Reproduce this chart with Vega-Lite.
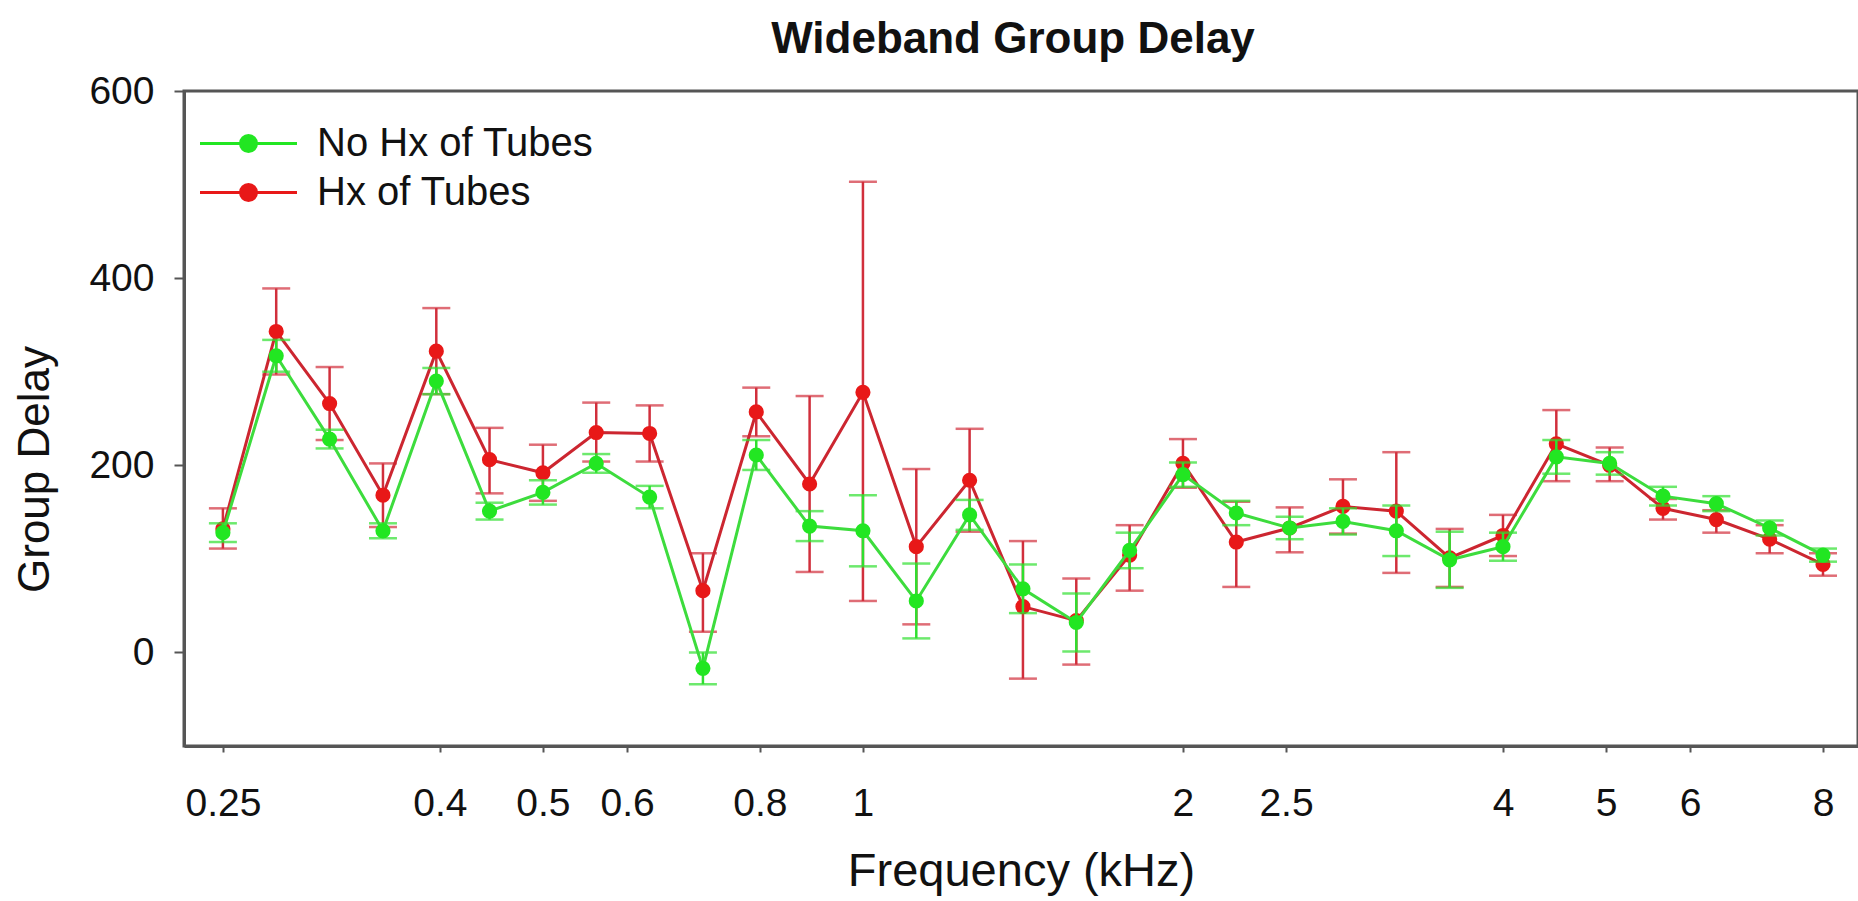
{
  "$schema": "https://vega.github.io/schema/vega-lite/v6.json",
  "width": 1674,
  "height": 655,
  "autosize": "none",
  "padding": {"left": 184, "top": 91, "right": 0, "bottom": 155},
  "background": "white",
  "title": {"text": "Wideband Group Delay", "fontSize": 44, "fontWeight": "bold", "font": "Liberation Sans", "color": "#111", "anchor": "middle", "baseline": "alphabetic", "offset": 18, "dy": 43, "dx": -8},
  "data": {"values": [
    {"k":0,"freq":0.25,"group":"No Hx of Tubes","mean":128,"lo":118,"hi":138},
    {"k":1,"freq":0.2806,"group":"No Hx of Tubes","mean":317,"lo":300,"hi":334},
    {"k":2,"freq":0.315,"group":"No Hx of Tubes","mean":228,"lo":218,"hi":238},
    {"k":3,"freq":0.3536,"group":"No Hx of Tubes","mean":130,"lo":122,"hi":138},
    {"k":4,"freq":0.3969,"group":"No Hx of Tubes","mean":290,"lo":276,"hi":304},
    {"k":5,"freq":0.4454,"group":"No Hx of Tubes","mean":151,"lo":142,"hi":160},
    {"k":6,"freq":0.5,"group":"No Hx of Tubes","mean":171,"lo":158,"hi":184},
    {"k":7,"freq":0.5612,"group":"No Hx of Tubes","mean":202,"lo":192,"hi":212},
    {"k":8,"freq":0.63,"group":"No Hx of Tubes","mean":166,"lo":154,"hi":178},
    {"k":9,"freq":0.7071,"group":"No Hx of Tubes","mean":-17,"lo":-34,"hi":0},
    {"k":10,"freq":0.7937,"group":"No Hx of Tubes","mean":211,"lo":195,"hi":227},
    {"k":11,"freq":0.8909,"group":"No Hx of Tubes","mean":135,"lo":119,"hi":151},
    {"k":12,"freq":1.0,"group":"No Hx of Tubes","mean":130,"lo":92,"hi":168},
    {"k":13,"freq":1.1225,"group":"No Hx of Tubes","mean":55,"lo":15,"hi":95},
    {"k":14,"freq":1.2599,"group":"No Hx of Tubes","mean":147,"lo":131,"hi":163},
    {"k":15,"freq":1.4142,"group":"No Hx of Tubes","mean":68,"lo":42,"hi":94},
    {"k":16,"freq":1.5874,"group":"No Hx of Tubes","mean":32,"lo":1,"hi":63},
    {"k":17,"freq":1.7818,"group":"No Hx of Tubes","mean":109,"lo":90,"hi":128},
    {"k":18,"freq":2.0,"group":"No Hx of Tubes","mean":190,"lo":177,"hi":203},
    {"k":19,"freq":2.2449,"group":"No Hx of Tubes","mean":149,"lo":136,"hi":162},
    {"k":20,"freq":2.5198,"group":"No Hx of Tubes","mean":133,"lo":121,"hi":145},
    {"k":21,"freq":2.8284,"group":"No Hx of Tubes","mean":140,"lo":126,"hi":154},
    {"k":22,"freq":3.1748,"group":"No Hx of Tubes","mean":130,"lo":103,"hi":157},
    {"k":23,"freq":3.5636,"group":"No Hx of Tubes","mean":99,"lo":69,"hi":129},
    {"k":24,"freq":4.0,"group":"No Hx of Tubes","mean":113,"lo":98,"hi":128},
    {"k":25,"freq":4.4898,"group":"No Hx of Tubes","mean":209,"lo":191,"hi":227},
    {"k":26,"freq":5.0397,"group":"No Hx of Tubes","mean":202,"lo":190,"hi":214},
    {"k":27,"freq":5.6569,"group":"No Hx of Tubes","mean":167,"lo":157,"hi":177},
    {"k":28,"freq":6.3496,"group":"No Hx of Tubes","mean":159,"lo":151,"hi":167},
    {"k":29,"freq":7.1272,"group":"No Hx of Tubes","mean":133,"lo":125,"hi":141},
    {"k":30,"freq":8.0,"group":"No Hx of Tubes","mean":104,"lo":97,"hi":111},
    {"k":0,"freq":0.25,"group":"Hx of Tubes","mean":132,"lo":111,"hi":154},
    {"k":1,"freq":0.2806,"group":"Hx of Tubes","mean":343,"lo":297,"hi":389},
    {"k":2,"freq":0.315,"group":"Hx of Tubes","mean":266,"lo":227,"hi":305},
    {"k":3,"freq":0.3536,"group":"Hx of Tubes","mean":168,"lo":134,"hi":202},
    {"k":4,"freq":0.3969,"group":"Hx of Tubes","mean":322,"lo":276,"hi":368},
    {"k":5,"freq":0.4454,"group":"Hx of Tubes","mean":206,"lo":170,"hi":240},
    {"k":6,"freq":0.5,"group":"Hx of Tubes","mean":192,"lo":162,"hi":222},
    {"k":7,"freq":0.5612,"group":"Hx of Tubes","mean":235,"lo":204,"hi":267},
    {"k":8,"freq":0.63,"group":"Hx of Tubes","mean":234,"lo":204,"hi":264},
    {"k":9,"freq":0.7071,"group":"Hx of Tubes","mean":66,"lo":22,"hi":106},
    {"k":10,"freq":0.7937,"group":"Hx of Tubes","mean":257,"lo":231,"hi":283},
    {"k":11,"freq":0.8909,"group":"Hx of Tubes","mean":180,"lo":86,"hi":274},
    {"k":12,"freq":1.0,"group":"Hx of Tubes","mean":278,"lo":55,"hi":503},
    {"k":13,"freq":1.1225,"group":"Hx of Tubes","mean":113,"lo":30,"hi":196},
    {"k":14,"freq":1.2599,"group":"Hx of Tubes","mean":184,"lo":129,"hi":239},
    {"k":15,"freq":1.4142,"group":"Hx of Tubes","mean":49,"lo":-28,"hi":119},
    {"k":16,"freq":1.5874,"group":"Hx of Tubes","mean":34,"lo":-13,"hi":79},
    {"k":17,"freq":1.7818,"group":"Hx of Tubes","mean":104,"lo":66,"hi":136},
    {"k":18,"freq":2.0,"group":"Hx of Tubes","mean":202,"lo":176,"hi":228},
    {"k":19,"freq":2.2449,"group":"Hx of Tubes","mean":118,"lo":70,"hi":161},
    {"k":20,"freq":2.5198,"group":"Hx of Tubes","mean":133,"lo":107,"hi":155},
    {"k":21,"freq":2.8284,"group":"Hx of Tubes","mean":156,"lo":127,"hi":185},
    {"k":22,"freq":3.1748,"group":"Hx of Tubes","mean":151,"lo":85,"hi":214},
    {"k":23,"freq":3.5636,"group":"Hx of Tubes","mean":101,"lo":70,"hi":132},
    {"k":24,"freq":4.0,"group":"Hx of Tubes","mean":125,"lo":103,"hi":147},
    {"k":25,"freq":4.4898,"group":"Hx of Tubes","mean":223,"lo":183,"hi":259},
    {"k":26,"freq":5.0397,"group":"Hx of Tubes","mean":200,"lo":183,"hi":219},
    {"k":27,"freq":5.6569,"group":"Hx of Tubes","mean":154,"lo":142,"hi":164},
    {"k":28,"freq":6.3496,"group":"Hx of Tubes","mean":142,"lo":128,"hi":152},
    {"k":29,"freq":7.1272,"group":"Hx of Tubes","mean":121,"lo":106,"hi":136},
    {"k":30,"freq":8.0,"group":"Hx of Tubes","mean":94,"lo":82,"hi":106}
  ]},
  "encoding": {
    "x": {
      "field": "freq", "type": "quantitative",
      "scale": {"type": "log", "domain": [0.2298, 8.63], "nice": false},
      "axis": {
        "title": "Frequency (kHz)",
        "values": [0.25, 0.4, 0.5, 0.6, 0.8, 1, 2, 2.5, 4, 5, 6, 8],
        "labelExpr": "'' + datum.value",
        "tickSize": 6, "labelPadding": 32, "labelFontSize": 39,
        "titleFontSize": 47, "titleY": 139, "titleBaseline": "alphabetic",
        "grid": false, "labelFlush": false, "labelOverlap": false
      }
    }
  },
  "layer": [
    {
      "transform": [{"filter": "datum.group === 'Hx of Tubes'"}],
      "mark": {"type": "errorbar", "ticks": {"size": 28, "thickness": 2.5}, "rule": {"strokeWidth": 2.5}, "color": "#d12f3c"},
      "encoding": {
        "y": {"field": "lo", "type": "quantitative", "scale": {"domain": [-100, 600], "nice": false, "zero": false}, "axis": {"title": "Group Delay", "values": [0, 200, 400, 600]}},
        "y2": {"field": "hi"}
      }
    },
    {
      "transform": [{"filter": "datum.group === 'Hx of Tubes'"}],
      "mark": {"type": "line", "color": "#cc2630", "strokeWidth": 3},
      "encoding": {
        "y": {"field": "mean", "type": "quantitative", "scale": {"domain": [-100, 600], "nice": false, "zero": false}, "axis": {"title": "Group Delay", "values": [0, 200, 400, 600]}},
        "order": {"field": "k"}
      }
    },
    {
      "transform": [{"filter": "datum.group === 'Hx of Tubes'"}],
      "mark": {"type": "point", "filled": true, "size": 230, "opacity": 1},
      "encoding": {
        "y": {"field": "mean", "type": "quantitative", "scale": {"domain": [-100, 600], "nice": false, "zero": false}, "axis": {"title": "Group Delay", "values": [0, 200, 400, 600]}},
        "color": {"field": "group", "type": "nominal", "scale": {"domain": ["No Hx of Tubes", "Hx of Tubes"], "range": ["#22e622", "#e81818"]}, "title": null,
          "legend": {"encode": {"symbols": {"update": {"stroke": {"field": "value", "scale": "color"}, "strokeWidth": {"value": 3}}}}}}
      }
    },
    {
      "transform": [{"filter": "datum.group === 'No Hx of Tubes'"}],
      "mark": {"type": "errorbar", "ticks": {"size": 28, "thickness": 2.5}, "rule": {"strokeWidth": 2.5}, "color": "#2fe02f"},
      "encoding": {
        "y": {"field": "lo", "type": "quantitative", "scale": {"domain": [-100, 600], "nice": false, "zero": false}, "axis": {"title": "Group Delay", "values": [0, 200, 400, 600]}},
        "y2": {"field": "hi"}
      }
    },
    {
      "transform": [{"filter": "datum.group === 'No Hx of Tubes'"}],
      "mark": {"type": "line", "color": "#3ddc3d", "strokeWidth": 3},
      "encoding": {
        "y": {"field": "mean", "type": "quantitative", "scale": {"domain": [-100, 600], "nice": false, "zero": false}, "axis": {"title": "Group Delay", "values": [0, 200, 400, 600]}},
        "order": {"field": "k"}
      }
    },
    {
      "transform": [{"filter": "datum.group === 'No Hx of Tubes'"}],
      "mark": {"type": "point", "filled": true, "size": 230, "opacity": 1},
      "encoding": {
        "y": {"field": "mean", "type": "quantitative", "scale": {"domain": [-100, 600], "nice": false, "zero": false}, "axis": {"title": "Group Delay", "values": [0, 200, 400, 600]}},
        "color": {"field": "group", "type": "nominal", "scale": {"domain": ["No Hx of Tubes", "Hx of Tubes"], "range": ["#22e622", "#e81818"]}, "title": null,
          "legend": {"encode": {"symbols": {"update": {"stroke": {"field": "value", "scale": "color"}, "strokeWidth": {"value": 3}}}}}}
      }
    }
  ],
  "config": {
    "font": "Liberation Sans",
    "view": {"stroke": "#555", "strokeWidth": 3},
    "axis": {
      "domainColor": "#555", "domainWidth": 3, "tickColor": "#555", "tickWidth": 2,
      "labelColor": "#111", "titleColor": "#111", "titleFontWeight": "normal",
      "labelFont": "Liberation Sans", "titleFont": "Liberation Sans", "grid": false
    },
    "axisY": {
      "tickSize": 10, "labelPadding": 20, "labelFontSize": 39,
      "titleFontSize": 44, "titleAngle": -90, "titleX": -149, "titleY": 378,
      "titleAlign": "center", "titleBaseline": "middle"
    },
    "legend": {
      "orient": "none", "legendX": 43, "legendY": 31, "padding": 0,
      "labelFontSize": 40, "labelColor": "#111", "labelFont": "Liberation Sans", "labelLimit": 600,
      "symbolType": "M-2.425,0H2.425M-0.4,0A0.4,0.4 0 1,0 0.4,0A0.4,0.4 0 1,0 -0.4,0",
      "symbolSize": 1600, "symbolStrokeWidth": 3, "labelOffset": 47, "rowPadding": 7,
      "symbolOpacity": 1
    }
  }
}
